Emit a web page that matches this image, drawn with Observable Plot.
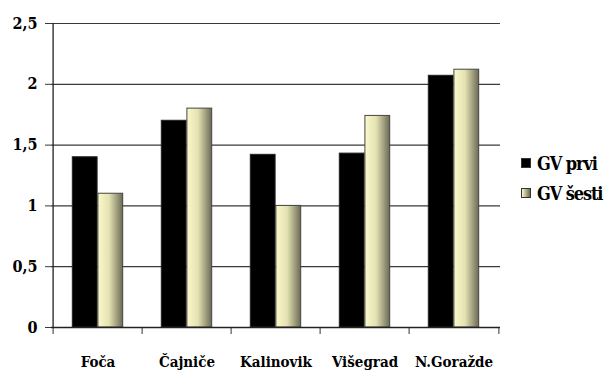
<!DOCTYPE html>
<html>
<head>
<meta charset="utf-8">
<script src="https://cdn.jsdelivr.net/npm/d3@7"></script>
<script src="https://cdn.jsdelivr.net/npm/@observablehq/plot@0.6"></script>
<style>
  body { margin: 0; background: #fff; }
  #wrap { position: relative; width: 605px; height: 371px; }
  #legend { position: absolute; left: 521px; top: 148px; font-family: "DejaVu Serif Condensed", "DejaVu Serif", serif; font-weight: bold; font-size: 18px; letter-spacing: -1.1px; color: #000; }
  #legend div { display: flex; align-items: center; height: 30px; }
  #legend span.sw { display: inline-block; width: 8px; height: 8px; margin-right: 6px; border: 1px solid #333; }
</style>
</head>
<body>
<div id="wrap"><div id="legend"></div></div>
<script>
// Municipalities and the two series
const cities = ["Foča", "Čajniče", "Kalinovik", "Višegrad", "N.Goražde"];
const gvPrvi = [1.4, 1.7, 1.42, 1.43, 2.07];
const gvSesti = [1.1, 1.8, 1.0, 1.74, 2.12];
const seriesNames = ["GV prvi", "GV šesti"];
const yTicks = [0, 0.5, 1, 1.5, 2, 2.5];

const rowsPrvi = cities.map((c, i) => ({city: c, value: gvPrvi[i]}));
const rowsSesti = cities.map((c, i) => ({city: c, value: gvSesti[i]}));

const width = 605, height = 371;
const mL = 51, mR = 105, mT = 23, mB = 44;
const bw = (width - mL - mR) / cities.length;
const barW = bw * 0.285;
const outer = (bw - 2 * barW) / 2;

const font = "'DejaVu Serif Condensed', 'DejaVu Serif', serif";

const chart = Plot.plot({
  width, height,
  marginLeft: mL, marginRight: mR, marginTop: mT, marginBottom: mB,
  style: {fontFamily: font, fontWeight: "bold", fontSize: "15px", color: "#000", background: "#fff"},
  x: {domain: cities, padding: 0, label: null},
  y: {domain: [0, 2.5], label: null},
  marks: [
    Plot.gridY(yTicks, {stroke: "#3a3a3a", strokeOpacity: 1, strokeWidth: 1.2}),
    Plot.axisY(yTicks, {
      tickSize: 6, tickPadding: 8, stroke: "#3a3a3a",
      tickFormat: d => String(d).replace(".", ","),
      fontSize: 16, letterSpacing: "-1.5px"
    }),
    Plot.barY(rowsPrvi, {x: "city", y: "value", fill: "#000", stroke: "#222",
      insetLeft: outer, insetRight: bw - outer - barW}),
    Plot.barY(rowsSesti, {x: "city", y: "value", fill: "url(#creamGrad)", stroke: "#444", strokeWidth: 1,
      insetLeft: outer + barW, insetRight: outer}),
    // category boundary ticks under the axis
    Plot.axisX({tickSize: 7, tickFormat: () => "", dx: -bw / 2, stroke: "#333"}),
    Plot.axisX([cities[cities.length - 1]], {tickSize: 7, tickFormat: () => "", dx: bw / 2, stroke: "#333"}),
    Plot.axisX({tickSize: 0, tickPadding: 29, fontSize: 15, letterSpacing: "-1.4px"}),
    Plot.ruleX([0], {x: () => cities[0], dx: -bw / 2, y1: 0, y2: 2.5, stroke: "#222", strokeWidth: 1.3}),
    Plot.ruleY([0], {stroke: "#222", strokeWidth: 1.3})
  ]
});

// horizontal shading for the second series
const defs = d3.create("svg:defs");
const grad = defs.append("linearGradient").attr("id", "creamGrad")
  .attr("x1", "0").attr("x2", "1").attr("y1", "0").attr("y2", "0");
grad.append("stop").attr("offset", "0%").attr("stop-color", "#fbf9c9");
grad.append("stop").attr("offset", "45%").attr("stop-color", "#e4e2b2");
grad.append("stop").attr("offset", "100%").attr("stop-color", "#6c6a56");
chart.insertBefore(defs.node(), chart.firstChild);

const wrap = document.getElementById("wrap");
wrap.insertBefore(chart, wrap.firstChild);

const legend = document.getElementById("legend");
const swFills = ["#000", "linear-gradient(to right, #fbf9c9, #6c6a56)"];
seriesNames.forEach((name, i) => {
  const row = document.createElement("div");
  const sw = document.createElement("span");
  sw.className = "sw";
  sw.style.background = swFills[i];
  row.appendChild(sw);
  row.appendChild(document.createTextNode(name));
  legend.appendChild(row);
});
</script>
</body>
</html>
